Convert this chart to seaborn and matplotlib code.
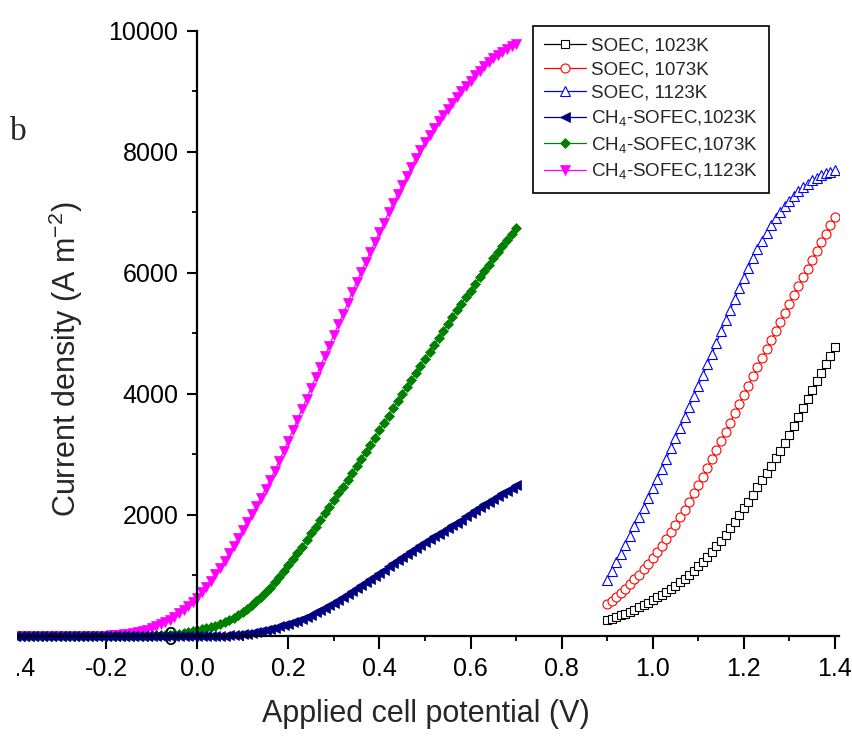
import numpy as np
import matplotlib
matplotlib.use("Agg")
import matplotlib.pyplot as plt
from matplotlib.patches import Rectangle
from matplotlib.ticker import MultipleLocator, FormatStrFormatter
import seaborn as sns

# applied cell potential (V)
sofec_v = np.round(np.linspace(-0.40, 0.70, 111), 2)
soec_v = np.round(np.linspace(0.90, 1.40, 51), 2)

# CH4-SOFEC current density (A m-2), -0.40 ... 0.70 V
sofec_1123 = [
    0, 0, 0, 0, 0, 0, 0, 0, 0, 0, 0, 0, 0, 0, 0, 0, 0, 0, 0, 0,
    5, 8, 12, 18, 25, 35, 48, 63, 80, 102, 128, 158, 192, 230, 272, 320, 372, 428, 490, 555,
    625, 720, 815, 915, 1020, 1130, 1245, 1365, 1490, 1620,
    1755, 1880, 2010, 2145, 2285, 2430, 2580, 2735, 2895, 3060,
    3230, 3400, 3575, 3750, 3925, 4100, 4275, 4450, 4625, 4800,
    4975, 5150, 5320, 5500, 5680, 5850, 6020, 6185, 6350, 6510,
    6670, 6825, 7000, 7150, 7300, 7450, 7600, 7750, 7900, 8030,
    8160, 8280, 8395, 8505, 8610, 8710, 8815, 8905, 9000, 9090,
    9180, 9265, 9345, 9420, 9490, 9555, 9610, 9660, 9705, 9745, 9780,
]
sofec_1073 = [
    0, 0, 0, 0, 0, 0, 0, 0, 0, 0, 0, 0, 0, 0, 0, 0, 0, 0, 0, 0,
    0, 0, 0, 0, 0, 0, 0, 0, 0, 0,
    5, 8, 12, 17, 23, 30, 40, 52, 67, 80,
    95, 110, 128, 148, 170, 195, 225, 260, 300, 345,
    395, 450, 510, 575, 645, 720, 800, 885, 975, 1070,
    1165, 1265, 1370, 1475, 1585, 1695, 1805, 1915, 2025, 2135,
    2245, 2355, 2465, 2575, 2690, 2805, 2920, 3040, 3160, 3280,
    3400, 3520, 3640, 3760, 3880, 4000, 4120, 4235, 4350, 4465,
    4580, 4695, 4810, 4925, 5040, 5155, 5270, 5380, 5490, 5600,
    5710, 5820, 5930, 6035, 6140, 6240, 6340, 6440, 6545, 6645, 6740,
]
sofec_1023 = [
    0, 0, 0, 0, 0, 0, 0, 0, 0, 0, 0, 0, 0, 0, 0, 0, 0, 0, 0, 0,
    0, 0, 0, 0, 0, 0, 0, 0, 0, 0, 0, 0, 0, 0, 0, 0, 0, 0, 0, 0,
    0, 0, 0, 0, 0,
    3, 6, 10, 15, 21,
    28, 38, 50, 64, 80, 98, 117, 137, 159, 182,
    205, 228, 255, 285, 318, 353, 390, 425, 465, 505,
    548, 592, 638, 686, 735, 785, 836, 888, 940, 992,
    1045, 1098, 1150, 1202, 1254, 1305, 1356, 1406, 1455, 1503,
    1551, 1598, 1645, 1692, 1738, 1784, 1830, 1875, 1920, 1975,
    2030, 2080, 2130, 2178, 2222, 2265, 2310, 2355, 2400, 2445, 2490,
]

# SOEC current density (A m-2), 0.90 ... 1.40 V
soec_1123 = [
    925, 1070, 1215, 1360, 1510, 1660, 1810, 1965, 2120, 2280,
    2440, 2600, 2765, 2930, 3100, 3270, 3440, 3615, 3790, 3965,
    4140, 4315, 4490, 4665, 4850, 5035, 5215, 5395, 5570, 5745,
    5915, 6080, 6240, 6390, 6530, 6665, 6790, 6905, 7010, 7105,
    7195, 7275, 7350, 7415, 7475, 7530, 7575, 7615, 7648, 7675, 7700,
]
soec_1073 = [
    530, 585, 645, 710, 780, 855, 935, 1015, 1100, 1190,
    1285, 1385, 1490, 1600, 1715, 1835, 1960, 2090, 2220, 2355,
    2495, 2635, 2780, 2925, 3070, 3220, 3370, 3525, 3680, 3835,
    3990, 4140, 4290, 4440, 4590, 4740, 4890, 5040, 5190, 5340,
    5490, 5640, 5785, 5930, 6070, 6215, 6360, 6505, 6650, 6790, 6925,
]
soec_1023 = [
    260, 285, 312, 340, 370, 402, 436, 472, 510, 550,
    592, 636, 682, 730, 780, 833, 888, 945, 1010, 1075,
    1150, 1225, 1305, 1390, 1480, 1575, 1675, 1780, 1890, 2000,
    2110, 2220, 2335, 2455, 2575, 2695, 2815, 2940, 3065, 3195,
    3330, 3470, 3615, 3765, 3915, 4065, 4210, 4350, 4490, 4630, 4770,
]

labels = [
    "SOEC, 1023K", "SOEC, 1073K", "SOEC, 1123K",
    "CH$_4$-SOFEC,1023K", "CH$_4$-SOFEC,1073K", "CH$_4$-SOFEC,1123K",
]

sns.set_style("ticks")
plt.rcParams["font.family"] = ["Liberation Sans", "DejaVu Sans"]
plt.rcParams["mathtext.default"] = "regular"
plt.rcParams["axes.unicode_minus"] = False

fig = plt.figure(figsize=(8.52, 7.36), dpi=100)
ax = fig.add_axes([0.0176, 0.1277, 0.9677, 0.8302])

# (x, y, label, colour, marker, size, filled) - drawn so navy sits on top at the flat part
series = [
    (sofec_v, sofec_1123, labels[5], "#ff00ff", "v", 7, True),
    (sofec_v, sofec_1073, labels[4], "#008000", "D", 5.5, True),
    (sofec_v, sofec_1023, labels[3], "#000080", "<", 7, True),
    (soec_v, soec_1023, labels[0], "#000000", "s", 5.5, False),
    (soec_v, soec_1073, labels[1], "#ff0000", "o", 6.5, False),
    (soec_v, soec_1123, labels[2], "#0000ff", "^", 7.5, False),
]
for xv, yv, lab, col, mk, ms, filled in series:
    sns.lineplot(
        x=xv, y=yv, ax=ax, label=lab, color=col, linewidth=0.9,
        marker=mk, markersize=ms,
        markerfacecolor=col if filled else "white",
        markeredgecolor=col, markeredgewidth=0.8 if not filled else 0.5,
    )

ax.set_xlim(-0.4, 1.41)
ax.set_ylim(-100, 10000)

for side in ["top", "right"]:
    ax.spines[side].set_visible(False)
ax.spines["left"].set_position(("data", 0))
ax.spines["bottom"].set_position(("data", 0))
ax.spines["left"].set_bounds(0, 10000)
for side in ["left", "bottom"]:
    ax.spines[side].set_linewidth(1.6)
    ax.spines[side].set_color("black")

ax.xaxis.set_major_locator(MultipleLocator(0.2))
ax.xaxis.set_minor_locator(MultipleLocator(0.1))
ax.xaxis.set_major_formatter(FormatStrFormatter("%.1f"))
ax.yaxis.set_major_locator(MultipleLocator(2000))
ax.yaxis.set_minor_locator(MultipleLocator(1000))

ax.tick_params(axis="x", which="major", direction="out", length=9, width=1.5,
               labelsize=18, pad=6, colors="black")
ax.tick_params(axis="y", which="major", direction="out", length=7, width=1.5,
               labelsize=18, pad=6.5, colors="black")
ax.tick_params(axis="both", which="minor", direction="out", length=3.5, width=1.3,
               colors="black")

ax.set_xlabel("Applied cell potential (V)", fontsize=22)
ax.set_ylabel("Current density (A m$^{-2}$)", fontsize=22)
ax.xaxis.set_label_coords(0.4985, -0.093)
ax.yaxis.set_label_coords(0.085, 0.463)

handles, labs = ax.get_legend_handles_labels()
order = [labs.index(l) for l in labels]
leg = ax.legend(
    [handles[i] for i in order], [labs[i] for i in order],
    loc="upper left", bbox_to_anchor=(533 / 852, 1 - 26 / 736),
    bbox_transform=fig.transFigure, borderaxespad=0,
    fontsize=13.5, frameon=True, fancybox=False, framealpha=1,
    edgecolor="black", handlelength=2.2, handletextpad=0.3,
    labelspacing=0.35, borderpad=0.6,
)
leg.get_frame().set_linewidth(1.2)

fig.text(10 / 852, 1 - 140 / 736, "b", fontsize=24, family="Liberation Serif",
         va="baseline", ha="left")

# the source figure is trimmed a little at the left end of the x axis
fig.patches.append(Rectangle((0, 0), 17 / 852, 1 - 560 / 736, transform=fig.transFigure,
                             facecolor="white", edgecolor="none", zorder=10))

fig.savefig("out.png", dpi=100, facecolor="white")
